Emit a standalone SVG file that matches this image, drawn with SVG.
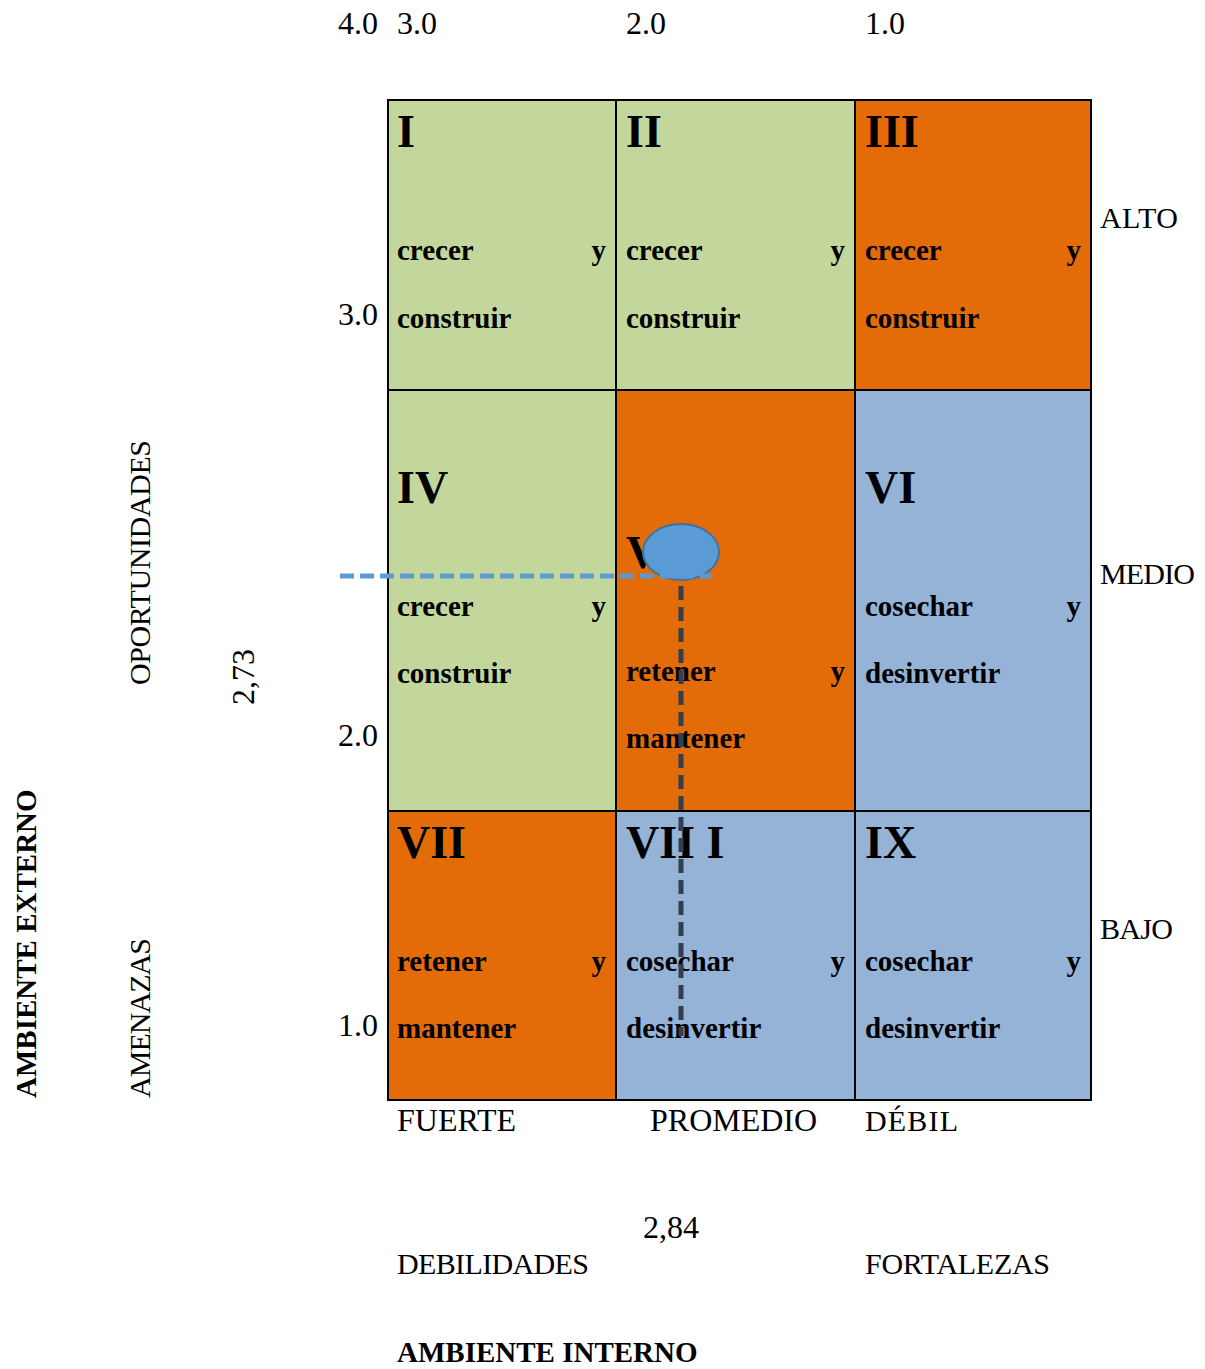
<svg xmlns="http://www.w3.org/2000/svg" width="1205" height="1369" viewBox="0 0 1205 1369">
<style>
text{font-family:"Liberation Serif","Times New Roman",serif;fill:#000}
.n{font-size:30px}
.d{font-size:32px}
.b{font-size:29px;font-weight:bold}
.r{font-size:46px;font-weight:bold}
.g{fill:#C3D69B}.o{fill:#E36C09}.u{fill:#95B3D7}
.cell{stroke:#000;stroke-width:2}
</style>
<rect width="1205" height="1369" fill="#fff"/>
<g id="axis-top">
<text class="d" x="338" y="34">4.0</text>
<text class="d" x="397" y="34">3.0</text>
<text class="d" x="626" y="34">2.0</text>
<text class="d" x="865" y="34">1.0</text>
</g>
<g id="axis-left">
<text class="d" x="338" y="325">3.0</text>
<text class="d" x="338" y="746">2.0</text>
<text class="d" x="338" y="1036">1.0</text>
</g>
<g id="cell-I"><rect class="cell g" x="388" y="100" width="228" height="290"/>
<text class="r" x="397" y="147">I</text><text class="b" x="397" y="260">crecer</text><text class="b" x="606" y="260" text-anchor="end">y</text><text class="b" x="397" y="328">construir</text></g>
<g id="cell-II"><rect class="cell g" x="616" y="100" width="239" height="290"/>
<text class="r" x="626" y="147">II</text><text class="b" x="626" y="260">crecer</text><text class="b" x="845" y="260" text-anchor="end">y</text><text class="b" x="626" y="328">construir</text></g>
<g id="cell-III"><rect class="cell o" x="855" y="100" width="236" height="290"/>
<text class="r" x="865" y="147">III</text><text class="b" x="865" y="260">crecer</text><text class="b" x="1081" y="260" text-anchor="end">y</text><text class="b" x="865" y="328">construir</text></g>
<g id="cell-IV"><rect class="cell g" x="388" y="390" width="228" height="421"/>
<text class="r" x="397" y="503">IV</text><text class="b" x="397" y="616">crecer</text><text class="b" x="606" y="616" text-anchor="end">y</text><text class="b" x="397" y="683">construir</text></g>
<g id="cell-V"><rect class="cell o" x="616" y="390" width="239" height="421"/>
<text class="r" x="626" y="568">V</text><text class="b" x="626" y="681">retener</text><text class="b" x="845" y="681" text-anchor="end">y</text><text class="b" x="626" y="748">mantener</text></g>
<g id="cell-VI"><rect class="cell u" x="855" y="390" width="236" height="421"/>
<text class="r" x="865" y="503">VI</text><text class="b" x="865" y="616">cosechar</text><text class="b" x="1081" y="616" text-anchor="end">y</text><text class="b" x="865" y="683">desinvertir</text></g>
<g id="cell-VII"><rect class="cell o" x="388" y="811" width="228" height="289"/>
<text class="r" x="397" y="858">VII</text><text class="b" x="397" y="971">retener</text><text class="b" x="606" y="971" text-anchor="end">y</text><text class="b" x="397" y="1038">mantener</text></g>
<g id="cell-VIII"><rect class="cell u" x="616" y="811" width="239" height="289"/>
<text class="r" x="626" y="858">VII I</text><text class="b" x="626" y="971">cosechar</text><text class="b" x="845" y="971" text-anchor="end">y</text><text class="b" x="626" y="1038">desinvertir</text></g>
<g id="cell-IX"><rect class="cell u" x="855" y="811" width="236" height="289"/>
<text class="r" x="865" y="858">IX</text><text class="b" x="865" y="971">cosechar</text><text class="b" x="1081" y="971" text-anchor="end">y</text><text class="b" x="865" y="1038">desinvertir</text></g>
<g id="axis-right">
<text class="n" x="1100" y="228" textLength="78">ALTO</text>
<text class="n" x="1100" y="584" textLength="95">MEDIO</text>
<text class="n" x="1100" y="939" textLength="73">BAJO</text>
</g>
<g id="axis-bottom">
<text class="d" x="397" y="1131">FUERTE</text>
<text class="d" x="650" y="1131">PROMEDIO</text>
<text class="n" x="865" y="1131" textLength="93">DÉBIL</text>
<text class="d" x="643" y="1238">2,84</text>
<text class="n" x="397" y="1274" textLength="192">DEBILIDADES</text>
<text class="n" x="865" y="1274" textLength="185">FORTALEZAS</text>
<text class="b" x="397" y="1362">AMBIENTE INTERNO</text>
</g>
<g id="axis-vertical">
<text class="n" transform="translate(150,685) rotate(-90)" textLength="245">OPORTUNIDADES</text>
<text class="n" transform="translate(150,1098) rotate(-90)" textLength="160">AMENAZAS</text>
<text class="d" transform="translate(254,705) rotate(-90)">2,73</text>
<text class="b" transform="translate(36,1098) rotate(-90)">AMBIENTE EXTERNO</text>
</g>
<g id="connectors">
<ellipse id="point" cx="681" cy="552" rx="38" ry="28" fill="#5B9BD5" stroke="#41719C" stroke-width="2"/>
<line x1="340" y1="576" x2="712" y2="576" stroke="#5B9BD5" stroke-width="5" stroke-dasharray="14 6"/>
<line x1="681" y1="586" x2="681" y2="1036" stroke="#333F50" stroke-width="5" stroke-dasharray="14 7"/>
</g>
</svg>
